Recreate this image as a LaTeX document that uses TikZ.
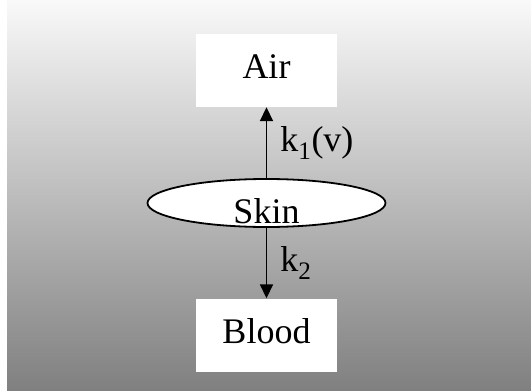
\documentclass[tikz,border=0pt]{standalone}
\usepackage{fontspec}
\setmainfont{Liberation Serif}
\usepackage{tikz}
\usetikzlibrary{shapes.geometric,arrows.meta,positioning}
\definecolor{bgtop}{RGB}{249,249,249}
\definecolor{bgbottom}{RGB}{128,128,128}

\begin{document}
\begin{tikzpicture}[x=1pt, y=-1pt,
        font=\fontsize{36}{43}\selectfont,
        layerbox/.style={rectangle, fill=white, inner sep=0pt,
                         minimum width=141pt, minimum height=73pt,
                         text depth=8pt},
        skinell/.style={ellipse, draw=black, line width=1.8pt, fill=white,
                        inner sep=0pt, minimum width=238pt, minimum height=48pt},
        flux/.style={-{Triangle[length=14pt, width=13pt]}, line width=1.8pt},
        rate/.style={right, inner sep=0pt, xshift=13pt}
    ]

    %% ── background ──────────────────────────────────────────────────────────
    \fill[white] (0,0) rectangle (531,391);
    \shade[top color=bgtop, bottom color=bgbottom] (7,0) rectangle (531,390);
    \useasboundingbox (0,0) rectangle (531,391);

    %% ── compartments ────────────────────────────────────────────────────────
    \node[layerbox] (air)   at (266.5, 70.5) {Air};
    \node[layerbox] (blood) at (266.5, 335)  {Blood};
    \node[skinell]  (skin)  at (266.5, 203)  {};
    \node[anchor=base, inner sep=0pt] (skintext) at (266.5, 223) {Skin};

    %% ── transfer rates ──────────────────────────────────────────────────────
    \draw[flux] (skin.north) -- node[rate] {k\textsubscript{1}(v)} (air.south);
    \draw[flux] (skin.south) -- node[rate] {k\textsubscript{2}} (blood.north);

\end{tikzpicture}
\end{document}
